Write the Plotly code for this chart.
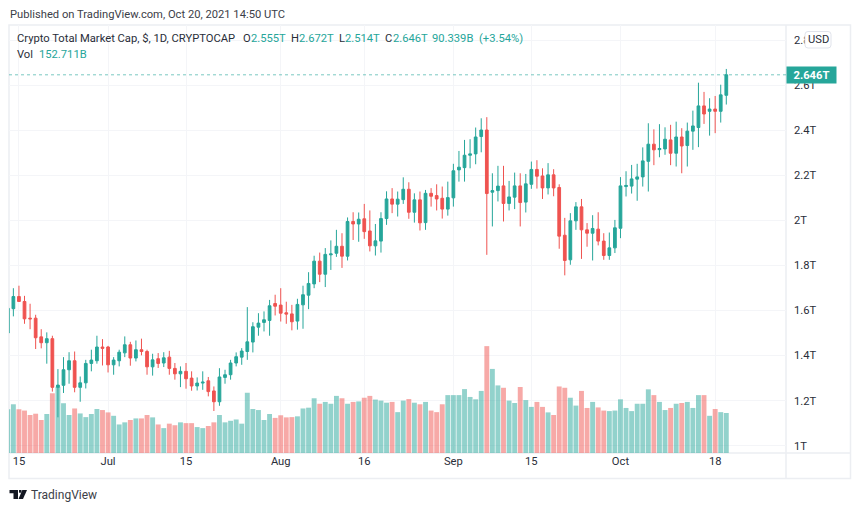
import pandas as pd
import plotly.graph_objects as go

dates = pd.date_range("2021-06-13", "2021-10-20", freq="D").strftime("%Y-%m-%d").tolist()

opens = [1.500,1.608,1.662,1.640,1.566,1.566,1.483,1.457,1.475,1.259,1.268,1.337,1.377,1.259,1.279,1.365,1.377,1.438,
 1.438,1.359,1.377,1.412,1.448,1.389,1.426,1.418,1.350,1.386,1.367,1.393,1.343,1.319,1.330,1.300,1.265,1.278,1.288,1.243,1.195,1.303,1.315,1.367,1.393,1.418,1.460,1.526,1.547,1.556,1.631,
 1.624,1.590,1.585,1.553,1.625,1.668,1.718,1.819,1.761,1.847,1.854,1.885,1.841,1.995,1.984,2.007,1.953,1.887,1.908,2.008,2.095,2.072,2.092,2.138,2.036,2.091,1.990,2.120,2.110,2.098,2.050,
 2.100,2.224,2.234,2.289,2.295,2.372,2.401,2.125,2.132,2.153,2.075,2.103,2.153,2.081,2.160,2.226,2.197,2.144,2.202,2.146,1.934,1.825,1.998,2.060,1.958,1.943,1.961,1.908,1.844,1.878,
 1.965,2.150,2.152,2.183,2.193,2.262,2.338,2.314,2.317,2.357,2.298,2.370,2.332,2.396,2.412,2.508,2.484,2.494,2.484,2.555]
highs = [1.625,1.699,1.710,1.665,1.630,1.581,1.517,1.503,1.488,1.340,1.393,1.415,1.418,1.307,1.381,1.426,1.488,1.473,
 1.443,1.393,1.426,1.485,1.461,1.467,1.475,1.426,1.408,1.411,1.415,1.421,1.367,1.352,1.367,1.330,1.303,1.330,1.305,1.263,1.344,1.337,1.381,1.414,1.433,1.615,1.548,1.588,1.596,1.647,1.670,
 1.699,1.639,1.625,1.652,1.710,1.770,1.843,1.857,1.877,1.911,1.958,1.943,2.013,2.036,2.035,2.073,2.044,1.984,2.036,2.129,2.143,2.128,2.191,2.169,2.120,2.128,2.135,2.143,2.160,2.150,2.172,
 2.251,2.308,2.357,2.360,2.412,2.453,2.458,2.209,2.242,2.242,2.175,2.212,2.209,2.206,2.261,2.267,2.231,2.254,2.227,2.160,2.011,2.032,2.081,2.095,1.988,2.023,2.036,1.943,1.946,2.002,
 2.192,2.218,2.246,2.251,2.324,2.431,2.404,2.427,2.413,2.424,2.438,2.409,2.434,2.487,2.611,2.570,2.542,2.552,2.602,2.672]
lows = [1.490,1.574,1.638,1.541,1.517,1.429,1.432,1.364,1.240,1.126,1.234,1.275,1.237,1.195,1.254,1.330,1.364,1.356,
 1.325,1.315,1.352,1.393,1.355,1.374,1.401,1.315,1.311,1.345,1.349,1.315,1.293,1.260,1.253,1.244,1.245,1.248,1.219,1.154,1.177,1.275,1.293,1.352,1.359,1.381,1.414,1.488,1.507,1.488,1.578,
 1.551,1.541,1.512,1.515,1.519,1.606,1.699,1.726,1.704,1.780,1.838,1.789,1.822,1.913,1.905,1.918,1.862,1.844,1.857,1.980,2.032,2.017,2.073,2.007,1.990,1.955,1.958,2.061,2.044,2.008,2.021,
 2.061,2.172,2.172,2.231,2.249,2.302,1.847,1.973,2.084,1.995,2.044,2.050,1.973,2.035,2.140,2.141,2.095,2.115,2.107,1.874,1.756,1.803,1.958,1.829,1.883,1.822,1.889,1.825,1.825,1.855,
 1.921,2.106,2.119,2.087,2.150,2.128,2.245,2.280,2.291,2.245,2.239,2.209,2.239,2.313,2.325,2.428,2.376,2.387,2.434,2.514]
closes = [1.610,1.662,1.640,1.563,1.563,1.479,1.457,1.475,1.259,1.269,1.337,1.377,1.259,1.279,1.365,1.380,1.438,1.432,
 1.359,1.380,1.415,1.448,1.389,1.426,1.418,1.350,1.381,1.365,1.390,1.343,1.319,1.330,1.297,1.265,1.278,1.282,1.240,1.195,1.305,1.315,1.367,1.395,1.420,1.461,1.528,1.544,1.559,1.621,1.619,
 1.588,1.584,1.550,1.627,1.670,1.720,1.819,1.761,1.849,1.851,1.885,1.841,1.995,1.984,2.005,1.950,1.887,1.909,2.008,2.095,2.072,2.094,2.138,2.036,2.091,1.989,2.120,2.107,2.095,2.050,2.101,
 2.220,2.236,2.289,2.295,2.370,2.401,2.119,2.132,2.152,2.075,2.104,2.153,2.079,2.162,2.226,2.196,2.144,2.202,2.144,1.930,1.822,1.998,2.060,1.958,1.943,1.964,1.908,1.844,1.878,1.967,
 2.153,2.155,2.184,2.193,2.264,2.338,2.313,2.319,2.360,2.298,2.370,2.330,2.396,2.419,2.508,2.472,2.494,2.484,2.557,2.646]
volumes = [167,186,167,162,145,150,126,149,228,253,190,145,170,151,137,149,168,164,
 155,142,109,117,126,132,132,145,136,109,95,112,106,117,114,114,99,95,103,117,145,117,123,128,112,230,168,164,126,149,134,
 144,136,137,140,170,173,209,188,195,188,218,209,188,195,197,211,218,204,200,192,195,156,200,206,192,186,195,162,156,186,221,
 221,221,244,214,205,237,408,321,258,249,200,191,252,202,176,195,176,155,145,254,249,211,181,237,172,195,174,162,160,162,
 205,172,160,188,188,243,221,195,164,172,188,191,195,172,221,221,142,168,156,152.711]

price_ticks = [1, 1.2, 1.4, 1.6, 1.8, 2, 2.2, 2.4, 2.6, 2.8]
price_labels = ["1T", "1.2T", "1.4T", "1.6T", "1.8T", "2T", "2.2T", "2.4T", "2.6T", "2.8T"]
date_ticks = ["2021-06-15", "2021-07-01", "2021-07-15", "2021-08-01", "2021-08-16", "2021-09-01", "2021-09-15", "2021-10-01", "2021-10-18"]
date_labels = ["15", "Jul", "15", "Aug", "16", "Sep", "15", "Oct", "18"]

UP, DOWN = "#26a69a", "#ef5350"
UP_V, DOWN_V = "rgba(38,166,154,0.5)", "rgba(239,83,80,0.5)"
TEXT = "#2a2e39"
FRAME = "#eceef2"
GRID = "#f4f5f8"
FONT = "Roboto"
FS = 11.2
L, R, T, B = 9, 786, 25, 453


def px(x):
    return (x - L) / (R - L)


def py(y):
    return (B - y) / (B - T)


vol_colors = [UP_V if c >= o else DOWN_V for o, c in zip(opens, closes)]

fig = go.Figure()
fig.add_trace(go.Bar(x=dates, y=volumes, marker=dict(color=vol_colors, line_width=0), yaxis="y", hoverinfo="skip"))
fig.add_trace(go.Candlestick(
    x=dates, open=opens, high=highs, low=lows, close=closes, yaxis="y2",
    increasing=dict(line=dict(color=UP, width=1), fillcolor=UP),
    decreasing=dict(line=dict(color=DOWN, width=1), fillcolor=DOWN),
    whiskerwidth=0, hoverinfo="skip"))


def note(text, x, y, color=TEXT, size=FS, anchor="left", **kw):
    return dict(text=text, x=px(x - 2 if anchor == "left" else x), y=py(y), xref="paper", yref="paper", xanchor=anchor,
                yanchor="middle", showarrow=False, font=dict(family=FONT, size=size, color=color), **kw)


last = closes[-1]
annotations = [
    note("Published on TradingView.com, Oct 20, 2021 14:50 UTC", 9.5, 14, color="#3c4048"),
    note("Crypto Total Market Cap, $, 1D, CRYPTOCAP", 16.5, 39),
    note("O", 243, 39), note("2.555T", 251, 39, UP),
    note("H", 291, 39), note("2.672T", 299, 39, UP),
    note("L", 339, 39), note("2.514T", 345, 39, UP),
    note("C", 385, 39), note("2.646T", 393, 39, UP),
    note("90.339B", 432, 39, UP), note("(+3.54%)", 479, 39, UP),
    note("Vol", 16.5, 55), note("152.711B", 39, 55, UP),
    note("USD", 818.5, 39.5, anchor="center"),
    note("TradingView", 31, 495, color="#3c4048", size=12),
    dict(text="<b>2.646T</b>", x=px(786), y=last, xref="paper", yref="y2", xanchor="left", yanchor="middle",
         showarrow=False, width=49, height=16, bgcolor=UP, align="center", borderpad=0,
         font=dict(family=FONT, size=FS, color="white")),
]


def box(x0, y0, x1, y1, **kw):
    return dict(type="rect", xref="paper", yref="paper", x0=px(x0), x1=px(x1), y0=py(y0), y1=py(y1), **kw)


def path(points):
    return "M" + " L".join(f"{px(a):.5f},{py(b):.5f}" for a, b in points) + " Z"


def logo(points):
    return dict(type="path", xref="paper", yref="paper", path=path(points),
                fillcolor="#131722", line_width=0)


shapes = [
    box(9, 25, 850.5, 478.5, line=dict(color=FRAME, width=1.5), layer="below"),
    box(786, 25, 786, 478.5, line=dict(color=FRAME, width=1.5), layer="below"),
    box(9, 453, 850.5, 453, line=dict(color=FRAME, width=1.5), layer="below"),
    dict(type="line", xref="paper", yref="y2", x0=0, x1=1, y0=last, y1=last, opacity=0.6,
         line=dict(color=UP, width=1, dash="dot")),
    dict(type="path", xref="paper", yref="paper", fillcolor="white", line=dict(color="#e0e3eb", width=1),
         path=(f"M{px(808):.5f},{py(31.5):.5f} L{px(828):.5f},{py(31.5):.5f} "
               f"Q{px(831):.5f},{py(31.5):.5f} {px(831):.5f},{py(34.5):.5f} "
               f"L{px(831):.5f},{py(45):.5f} Q{px(831):.5f},{py(48):.5f} {px(828):.5f},{py(48):.5f} "
               f"L{px(808):.5f},{py(48):.5f} Q{px(805):.5f},{py(48):.5f} {px(805):.5f},{py(45):.5f} "
               f"L{px(805):.5f},{py(34.5):.5f} Q{px(805):.5f},{py(31.5):.5f} {px(808):.5f},{py(31.5):.5f} Z")),
    logo([(9.5, 490), (18, 490), (18, 499), (13.5, 499), (13.5, 493.2), (9.5, 493.2)]),
    logo([(19, 490), (21.5, 490), (21.5, 492.7), (19, 492.7)]),
    logo([(22.3, 490), (27, 490), (23, 499), (18.5, 499)]),
]

fig.update_layout(
    width=860, height=511,
    margin=dict(l=L, r=860 - R, t=T, b=511 - B, autoexpand=False),
    paper_bgcolor="white", plot_bgcolor="white",
    showlegend=False, bargap=0.12,
    xaxis=dict(type="date", range=["2021-06-13 05:10", "2021-10-30 17:15"], rangeslider=dict(visible=False),
               tickmode="array", tickvals=date_ticks, ticktext=date_labels, showgrid=True, gridcolor=GRID, gridwidth=1,
               zeroline=False, showline=False, ticks="", tickangle=0,
               tickfont=dict(family=FONT, size=FS, color=TEXT)),
    yaxis=dict(range=[0, 1634], visible=False, fixedrange=True),
    yaxis2=dict(range=[0.9676, 2.867], overlaying="y", side="right", tickmode="array", tickvals=price_ticks,
                ticktext=price_labels, showgrid=True, gridcolor=GRID, gridwidth=1, zeroline=False, showline=False,
                ticks="", ticklabelstandoff=7, tickfont=dict(family=FONT, size=FS, color=TEXT)),
    annotations=annotations, shapes=shapes,
)

assert len(dates) == len(opens) == len(highs) == len(lows) == len(closes) == len(volumes)
fig.write_html("out.html", config=dict(displayModeBar=False), post_script="document.body.style.margin='0';")
